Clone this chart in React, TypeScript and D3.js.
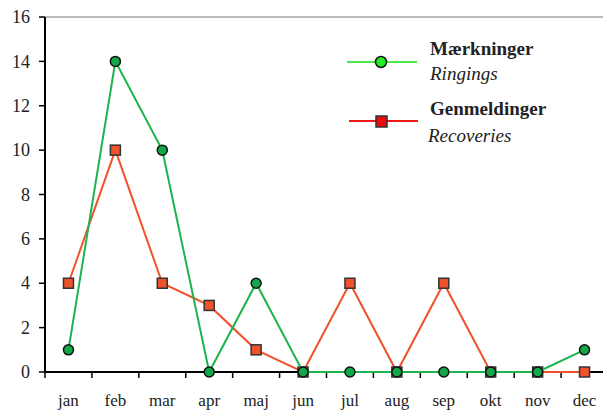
import React from 'react';
import * as d3 from 'd3';

const months = ['jan', 'feb', 'mar', 'apr', 'maj', 'jun', 'jul', 'aug', 'sep', 'okt', 'nov', 'dec'];
const ringings = [1, 14, 10, 0, 4, 0, 0, 0, 0, 0, 0, 1];
const recoveries = [4, 10, 4, 3, 1, 0, 4, 0, 4, 0, 0, 0];
const yTicks = [0, 2, 4, 6, 8, 10, 12, 14, 16];

const left = 45;
const top = 17;
const bottom = 372;
const right = 608;
const font = 'Liberation Serif';

const x = d3.scaleBand<string>().domain(months).range([left, right]);
const y = d3.scaleLinear().domain([0, 16]).range([bottom, top]);
const cx = (i: number) => x(months[i])! + x.bandwidth() / 2;
const line = d3.line<number>().x((_, i) => cx(i)).y((d) => y(d));

const legendLabels = [
  { t: 'Mærkninger', x: 430, y: 55, bold: true },
  { t: 'Ringings', x: 430, y: 80, bold: false },
  { t: 'Genmeldinger', x: 430, y: 115, bold: true },
  { t: 'Recoveries', x: 428, y: 142, bold: false },
];

const App = () => (
  <svg
    width={603}
    height={413}
    style={{ position: 'absolute', left: 0, top: 0, background: '#fff' }}
  >
    {/* frame top */}
    <line x1={left} x2={603} y1={top} y2={top} stroke="#777" strokeWidth={1} />

    {/* y axis */}
    <line x1={left} x2={left} y1={top} y2={bottom} stroke="#000" strokeWidth={2} />
    {yTicks.map((t) => (
      <g key={t} transform={`translate(0,${y(t)})`}>
        <line x1={left - 6} x2={left} stroke="#000" strokeWidth={1.5} />
        <text
          x={left - 15}
          dy="0.34em"
          textAnchor="end"
          fontFamily={font}
          fontSize={18}
          fill="#222"
        >
          {t}
        </text>
      </g>
    ))}

    {/* x axis */}
    <line x1={left} x2={603} y1={bottom} y2={bottom} stroke="#000" strokeWidth={2} />
    {months.map((m, i) => (
      <g key={m}>
        <line x1={x(m)} x2={x(m)} y1={bottom} y2={bottom + 6} stroke="#000" strokeWidth={1.5} />
        <text
          x={cx(i)}
          y={bottom + 34}
          textAnchor="middle"
          fontFamily={font}
          fontSize={17}
          fill="#222"
        >
          {m}
        </text>
      </g>
    ))}

    {/* recoveries */}
    <path d={line(recoveries) ?? ''} fill="none" stroke="#f0522b" strokeWidth={2} />
    {recoveries.map((v, i) => (
      <rect
        key={i}
        x={cx(i) - 5}
        y={y(v) - 5}
        width={10}
        height={10}
        fill="#f0522b"
        stroke="#333"
        strokeWidth={1.5}
      />
    ))}

    {/* ringings */}
    <path d={line(ringings) ?? ''} fill="none" stroke="#1db34f" strokeWidth={2} />
    {ringings.map((v, i) => (
      <circle key={i} cx={cx(i)} cy={y(v)} r={5} fill="#12a84a" stroke="#111" strokeWidth={1.5} />
    ))}

    {/* legend */}
    <line x1={347} x2={417} y1={62} y2={62} stroke="#4be84b" strokeWidth={2} />
    <circle cx={381} cy={62} r={5.5} fill="#22ee22" stroke="#111" strokeWidth={1.5} />
    <line x1={349} x2={418} y1={121} y2={121} stroke="#ee1a1a" strokeWidth={2} />
    <rect x={376} y={116} width={11} height={11} fill="#ee0a0a" stroke="#333" strokeWidth={1.5} />
    {legendLabels.map((d) => (
      <text
        key={d.t}
        x={d.x}
        y={d.y}
        fontFamily={font}
        fontSize={19}
        fontWeight={d.bold ? 'bold' : 'normal'}
        fontStyle={d.bold ? 'normal' : 'italic'}
        fill="#222"
      >
        {d.t}
      </text>
    ))}
  </svg>
);

export default App;
